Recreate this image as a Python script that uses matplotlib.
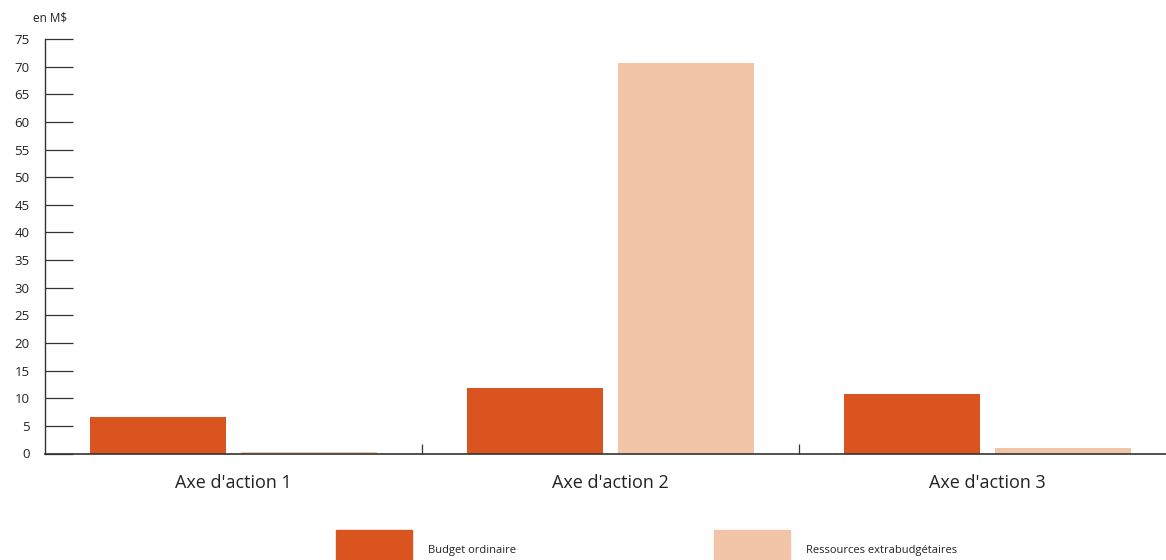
import matplotlib.pyplot as plt
import matplotlib.patches as mpatches
import numpy as np

plt.rcParams['font.family'] = ['Open Sans', 'DejaVu Sans']

categories = ["Axe d'action 1", "Axe d'action 2", "Axe d'action 3"]
budget_ordinaire = [6.6, 11.9, 10.8]
extrabudgetaire = [0.2, 70.7, 1.0]
series_names = ["Budget ordinaire", "Ressources extrabudgétaires"]
yticks = list(range(0, 80, 5))

c_budget = '#D9541E'
c_extra = '#F3C5A8'
c_axis = '#333333'

fig = plt.figure(figsize=(11.66, 5.6), dpi=100)
ax = fig.add_axes([45 / 1166, 1 - 453.5 / 560, 1 - 45 / 1166, (453.5 - 39) / 560])

x = np.arange(len(categories))
w = 0.36
ax.bar(x - 0.2, budget_ordinaire, w, color=c_budget, zorder=1)
ax.bar(x + 0.2, extrabudgetaire, w, color=c_extra, zorder=1)

ax.set_xlim(-0.5, 2.5 - 10 / 377)
ax.set_ylim(0, 75)

for s in ['top', 'right']:
    ax.spines[s].set_visible(False)
ax.spines['left'].set_color(c_axis)
ax.spines['bottom'].set_color(c_axis)
ax.spines['left'].set_linewidth(1.0)
ax.spines['bottom'].set_linewidth(1.2)
ax.spines['bottom'].set_zorder(3)

ax.set_yticks(yticks)
ax.tick_params(axis='y', direction='in', length=20, width=0.9, color=c_axis,
               labelsize=9.5, pad=11, labelcolor='#222222')

ax.set_xticks(x)
ax.set_xticklabels(categories)
ax.tick_params(axis='x', which='major', length=0, pad=15, labelsize=13,
               labelcolor='#222222')
ax.set_xticks([0.5, 1.5], minor=True)
ax.tick_params(axis='x', which='minor', direction='in', length=7, width=0.9,
               color=c_axis)

fig.text(33 / 1166, 1 - 18 / 560, "en M$", fontsize=8.5, va='center',
         ha='left', color='#222222')

# legend drawn as figure-level swatches
for xs, col, name in [(336, c_budget, series_names[0]), (714, c_extra, series_names[1])]:
    fig.patches.append(mpatches.Rectangle((xs / 1166, 0), 76 / 1166, 30 / 560,
                                          transform=fig.transFigure, color=col))
    fig.text((xs + 92) / 1166, 1 - 551 / 560, name, fontsize=8, va='center',
             ha='left', color='#222222')

fig.savefig('out.png', dpi=100)
